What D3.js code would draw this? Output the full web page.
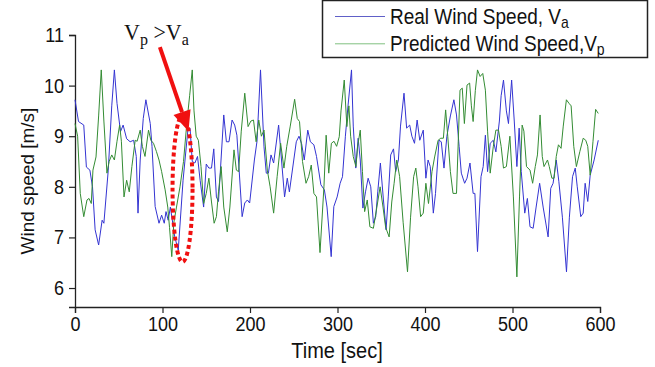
<!DOCTYPE html>
<html><head><meta charset="utf-8">
<script src="https://cdn.jsdelivr.net/npm/d3@7/dist/d3.min.js"></script>
<style>body{margin:0;background:#fff}svg{display:block}</style>
</head><body><svg id="c" width="655" height="367"></svg>
<script>
const xTicks=[0,100,200,300,400,500,600];
const yTicks=[6,7,8,9,10,11];
const realTime=[0,4,10,13,17,20,23,27,31,33,38,42,45,48,52,55,59,63,67,70,72,74.5,78,81,86,88,91.6,96,99,102,104,106.5,109,114,118,123.5,129,131.5,134,137,140,143,147,150,153,156,158.6,161.6,164,170,173,176,179.5,182.5,185,191,194,197,199.6,205,208,212,216,218.6,221,224,227,232.7,239.5,242.6,245,252.9,256,259,262,266,269,273,276,281,285,288,292.8,295.8,299.6,303,305.7,309,312,316,318,320.9,323.6,326,329,332,335,338,341,343.7,346,349,352.5,355.5,358,360.8,364,366.5,369.6,372,376,379,382.5,385,388,391,394,398,401,403.5,406,409.5,412,416,418.6,421.7,425,429,433,436,439,441.5,445.3,448,451.4,455,457,460,464,466.5,469,471.5,474.5,478,481,485,487,489.7,493,495.4,499,502,505,507.6,510,514,517,520,523.6,527,531,535,540.7,543.7,546.4,550,553,557,561.7,565,568.6,571.7,574,578,580.8,583,586,588.8,593.3,598];
const realSpeed=[9.72,9.29,9.22,8.39,8.33,8.0,7.15,6.85,7.34,7.28,8.33,9.6,10.31,9.65,9.09,9.22,8.95,8.89,8.92,8.6,7.48,8.53,9.35,9.72,9.25,8.8,7.61,7.28,7.44,7.28,7.51,7.34,7.6,7.01,6.75,8.13,9.12,9.16,8.5,8.47,8.6,8.13,7.6,8.45,8.37,8.37,8.75,7.80,7.71,9.42,8.89,8.89,9.32,9.22,9.02,7.41,7.68,7.74,7.68,8.53,8.9,10.31,8.79,8.27,8.27,8.63,8.47,9.22,7.80,8.17,7.90,8.89,9.0,8.85,8.53,9.12,8.89,8.83,8.6,8.04,7.94,7.6,6.62,7.61,7.80,8.07,8.20,9.0,9.6,10.31,9.2,8.37,8.96,8.53,7.58,7.9,8.17,8.00,7.28,7.41,7.9,8.47,7.74,7.15,7.8,8.63,8.75,8.30,8.53,9.2,9.85,9.16,9.22,9.0,8.86,9.32,8.92,9.12,8.17,8.53,8.4,7.48,7.87,8.92,8.89,8.37,9.0,9.4,9.72,9.42,8.8,8.27,8.07,8.17,8.47,7.87,7.87,6.72,8.20,8.40,9.02,8.30,8.86,8.92,8.69,9.3,9.8,10.11,9.5,9.25,10.11,9.3,8.40,9.16,8.3,7.48,7.77,7.21,7.18,7.6,8.07,7.6,7.01,7.97,8.07,8.53,8.1,7.4,6.32,7.4,8.20,8.37,8.0,7.41,7.48,8.07,7.71,8.23,8.53,8.92];
const predTime=[0,3,6,10,13.7,16,18.6,20.5,24,27,30,33,36.5,39,42,45,48,51,53,56,59,62,65,68.8,71,74.5,77,80,84,86.7,89.7,93,96,99,103,106,108,110.6,113,116,120,124,128,131,134,136,138.5,141,144,147,150,153,156,159,161.6,164,167,170,174,177,181.7,184.4,187,190,194,197.8,201,204,207,210,213,216,219.8,223,227,231,235,238.8,242,246,251,254,256.6,260,264,267,270,273,276,280,284.5,287,290,293,296,299,302,304,307.7,310.7,313,315,318,321,323,326,328.5,331,334,337,341,345,348.7,352,355,359,362,364.7,367.7,371,375,380,383.5,387,389.5,392,395,398,401,404,408,411,415,418,421,423.6,426,429,432,436,438,440,442.6,445,448,451,453,455,457.5,460,463,466,469,471.5,474.5,478,481,484,487,489.7,493,497,501,505,508,511,513,516,520,523,526,528.5,531.5,534,536,540,542,545,547.5,550,552.5,555.5,558,561.6,564.6,567,570,573,577,580.8,583.7,586,588.8,592,595,598];
const predSpeed=[9.25,9.0,7.87,7.41,7.74,7.77,7.67,8.33,8.59,9.4,10.31,9.3,8.27,8.5,8.63,8.53,8.9,9.22,8.9,7.80,8.13,7.90,8.4,8.92,8.9,9.12,8.8,8.6,9.12,8.92,8.86,8.7,8.53,8.3,7.94,7.6,7.2,6.62,7.3,7.6,8.0,8.5,9.3,9.8,10.31,9.5,9.0,8.92,8.4,7.67,7.87,8.17,7.7,7.28,7.41,7.9,8.40,7.6,7.11,7.6,8.73,8.33,8.3,9.1,9.85,9.19,9.3,9.32,8.89,9.32,9.0,9.12,8.33,8.0,7.48,8.2,8.86,8.37,8.8,9.2,9.73,9.35,9.29,8.5,8.07,8.2,8.43,7.87,7.8,6.70,8.0,9.02,8.27,8.86,8.9,8.8,8.99,9.5,10.11,9.19,9.6,9.0,8.6,8.40,8.8,9.12,8.3,7.51,7.74,7.21,7.18,7.6,8.00,7.6,7.2,7.01,7.7,8.07,8.53,8.2,7.3,6.32,7.4,8.20,8.37,8.0,7.41,7.48,8.07,7.67,8.3,8.59,8.92,8.96,8.96,9.52,9.0,8.3,7.87,7.87,8.9,9.91,9.95,9.25,10.01,10.05,9.6,9.29,9.9,10.31,10.18,10.24,9.91,9.1,8.27,8.79,9.12,9.12,8.8,8.37,8.40,9.0,7.8,6.22,7.8,9.22,9.1,8.40,8.33,8.07,8.4,8.63,9.42,8.6,8.40,8.53,8.4,8.17,8.17,8.6,8.83,8.76,9.2,9.72,9.65,9.6,8.8,8.40,8.7,8.96,8.92,8.8,8.23,8.9,9.53,9.45];
const seriesNames=["Real Wind Speed, V","Predicted Wind Speed,V"];
const seriesSubs=["a","p"];
const seriesColors=["#3434d2","#348c34"];
const legendColors=["#6060c8","#80c080"];

const svg=d3.select("#c");
const x=d3.scaleLinear().domain([0,600]).range([75,600]);
const y=d3.scaleLinear().domain([5.625,11]).range([307,35]);
const font="'Liberation Sans',Arial,sans-serif";
const S=1.14; // vertical stretch of the reference's lettering

// axes
const xa=svg.append("g").attr("transform","translate(0,307)")
  .call(d3.axisBottom(x).tickValues(xTicks).tickSize(6).tickPadding(2).tickFormat(d3.format("d")));
const ya=svg.append("g").attr("transform","translate(75,0)")
  .call(d3.axisLeft(y).tickValues(yTicks).tickSize(6).tickPadding(5).tickFormat(d3.format("d")));
[xa,ya].forEach(a=>{
  a.select(".domain").attr("stroke","#222").attr("stroke-width",1.3);
  a.selectAll(".tick line").attr("stroke","#222").attr("stroke-width",1.2);
  a.selectAll(".tick text").attr("fill","#111").style("font-family",font).style("font-size","18px")
    .attr("transform",`scale(1,${S})`);
});
svg.append("text").attr("transform",`translate(337,358) scale(1,${S})`).attr("text-anchor","middle")
  .style("font-family",font).style("font-size","20px").attr("fill","#111").text("Time [sec]");
svg.append("text").attr("transform","translate(34,181) rotate(-90)").attr("text-anchor","middle")
  .style("font-family",font).style("font-size","19px").attr("fill","#111").text("Wind speed [m/s]");

// lines
const realData=realTime.map((t,i)=>[t,realSpeed[i]]);
const predData=predTime.map((t,i)=>[t,predSpeed[i]]);
const line=d3.line().x(d=>x(d[0])).y(d=>y(d[1]));
svg.append("path").datum(realData).attr("d",line).attr("fill","none")
  .attr("stroke",seriesColors[0]).attr("stroke-width",1);
svg.append("path").datum(predData).attr("d",line).attr("fill","none")
  .attr("stroke",seriesColors[1]).attr("stroke-width",1);

// annotation
const tail=[97,10.76], tip=[129.7,9.10];
const tx=x(tail[0]),ty=y(tail[1]),px=x(tip[0]),py=y(tip[1]);
const dx=px-tx,dy=py-ty,L=Math.hypot(dx,dy),ux=dx/L,uy=dy/L;
const hl=20,hw=9;
const bx=px-ux*hl,by=py-uy*hl;
svg.append("line").attr("x1",tx).attr("y1",ty).attr("x2",bx).attr("y2",by)
  .attr("stroke","#f01010").attr("stroke-width",4);
svg.append("polygon").attr("points",[[px,py],[bx-uy*hw,by+ux*hw],[bx+uy*hw,by-ux*hw]].map(p=>p.join(",")).join(" "))
  .attr("fill","#f01010");
svg.append("ellipse").attr("cx",x(122.9)).attr("cy",y(7.96)).attr("rx",10).attr("ry",73)
  .attr("fill","none").attr("stroke","#f01010").attr("stroke-width",4).attr("stroke-dasharray","4,3");
const ann=svg.append("text").attr("transform",`translate(${x(56)},${y(10.9)}) scale(1,1.08)`)
  .style("font-family","'Liberation Serif','Times New Roman',serif").style("font-size","22px").attr("fill","#111");
ann.append("tspan").text("V");
ann.append("tspan").attr("dy",5).style("font-size","16px").text("p");
ann.append("tspan").attr("dy",-5).text(" >V");
ann.append("tspan").attr("dy",5).style("font-size","16px").text("a");

// legend
const lg=svg.append("g");
lg.append("rect").attr("x",322.5).attr("y",0.5).attr("width",325).attr("height",57)
  .attr("fill","#fff").attr("stroke","#222").attr("stroke-width",1.5);
seriesNames.forEach((n,i)=>{
  const yy=16.5+i*27.3;
  lg.append("line").attr("x1",335).attr("x2",385).attr("y1",yy).attr("y2",yy)
    .attr("stroke",legendColors[i]).attr("stroke-width",1);
  const t=lg.append("text").attr("transform",`translate(390,${yy+7}) scale(1,${S})`)
    .style("font-family",font).style("font-size","19px").attr("fill","#111");
  t.append("tspan").text(n);
  t.append("tspan").attr("dy",4).style("font-size","14px").text(seriesSubs[i]);
});
</script></body></html>
